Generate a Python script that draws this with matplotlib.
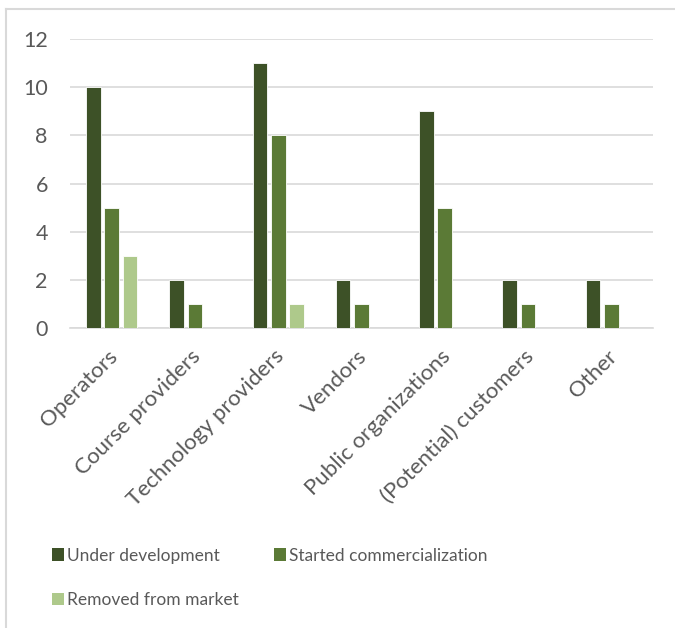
import matplotlib
matplotlib.use("Agg")
import matplotlib.pyplot as plt
import numpy as np
from matplotlib.patches import Patch
from matplotlib.lines import Line2D

categories = ["Operators", "Course providers", "Technology providers", "Vendors",
              "Public organizations", "(Potential) customers", "Other"]
under_development = [10, 2, 11, 2, 9, 2, 2]
started_commercialization = [5, 1, 8, 1, 5, 1, 1]
removed_from_market = [3, 0, 1, 0, 0, 0, 0]
series_names = ["Under development", "Started commercialization", "Removed from market"]
colors = ["#3D5127", "#5B7A36", "#AEC98B"]

plt.rcParams['font.family'] = ['Lato', 'DejaVu Sans']
text_color = "#595959"

fig = plt.figure(figsize=(6.75, 6.28), dpi=100)
ax = fig.add_axes([70/675, 1-328/628, (653-70)/675, (328-39)/628])

x = np.arange(len(categories))
width = 0.175
step = 0.22
for i, (vals, c) in enumerate(zip([under_development, started_commercialization, removed_from_market], colors)):
    ax.bar(x + (i-1)*step, vals, width, color=c, edgecolor="white", linewidth=0.6, zorder=3)

ax.set_xlim(-0.5, len(categories)-0.5)
ax.set_ylim(0, 12)
ax.set_yticks(range(0, 13, 2))
ax.yaxis.grid(True, color="#D9D9D9", linewidth=1.2, zorder=0)
for s in ["top", "right", "left"]:
    ax.spines[s].set_visible(False)
ax.spines["bottom"].set_color("#D9D9D9")
ax.spines["bottom"].set_linewidth(1.2)
ax.tick_params(axis="both", length=0, colors=text_color, labelsize=15.5)
ax.tick_params(axis="x", labelsize=16)
ax.tick_params(axis="y", pad=16)
ax.set_xticks(x - 0.05)
ax.set_xticklabels(categories, rotation=45, ha="right", va="top", rotation_mode="anchor")
ax.tick_params(axis="x", pad=13)

handles = [Patch(facecolor=c, edgecolor="none") for c in colors]
order = [0, 2, 1]
fig.legend([handles[i] for i in order], [series_names[i] for i in order],
           loc="upper left", bbox_to_anchor=(36/675, 1-532/628),
           ncol=2, frameon=False, fontsize=12.5, labelcolor=text_color,
           handlelength=0.7, handleheight=0.7, handletextpad=0.2,
           columnspacing=2.0, labelspacing=1.65)

fig.add_artist(Line2D([6/675, 6/675], [0, 1-9/628], color="#D9D9D9", linewidth=1.5))
fig.add_artist(Line2D([6/675, 1], [1-9/628, 1-9/628], color="#D9D9D9", linewidth=1.5))

fig.savefig("out.png", dpi=100, facecolor="white")
